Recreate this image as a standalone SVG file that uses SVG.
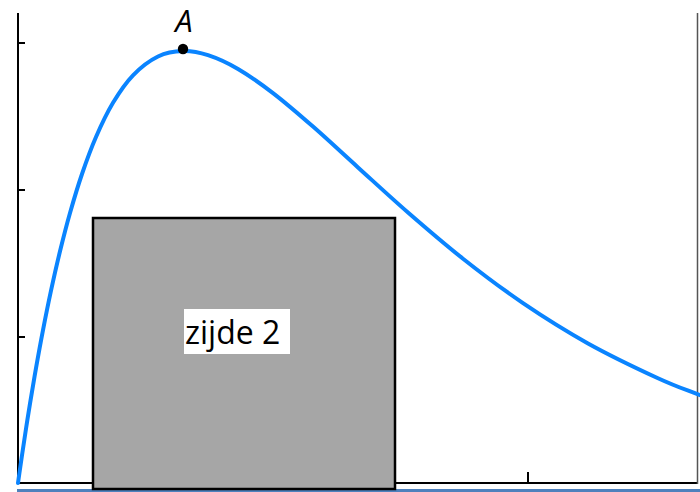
<svg xmlns="http://www.w3.org/2000/svg" width="700" height="492" viewBox="0 0 700 492">
<style>
.axis{stroke:#000;stroke-width:2;fill:none}
.tick{stroke:#000;stroke-width:2}
.curve{stroke:#0a84ff;stroke-width:4;fill:none;stroke-linejoin:round;stroke-linecap:round}
.lbl{font-family:"Open Sans","Liberation Sans",sans-serif;fill:#000}
</style>
<rect width="700" height="492" fill="#fff"/>
<g id="axes">
<line class="axis" x1="18" y1="13" x2="18" y2="484"/>
<line class="axis" x1="17" y1="483" x2="698" y2="483"/>
<line x1="697.5" y1="13" x2="697.5" y2="484" stroke="#555" stroke-width="1.5"/>
<line class="tick" x1="18" y1="43" x2="25" y2="43"/>
<line class="tick" x1="18" y1="190" x2="25" y2="190"/>
<line class="tick" x1="18" y1="337" x2="25" y2="337"/>
<line class="tick" x1="528" y1="472" x2="528" y2="483"/>
</g>
<g id="curve">
<path class="curve" d="M18,483 C19.33,473.73 20.67,464.23 22,455.2 C23.33,446.17 24.67,437.4 26,428.8 C27.33,420.2 28.33,413.72 30,403.6 C31.67,393.48 33.83,380.35 36,368.1 C38.17,355.85 40.5,343 43,330.1 C45.5,317.2 48.17,303.83 51,290.7 C53.83,277.57 56.83,264.25 60,251.3 C63.17,238.35 66.33,225.88 70,213 C73.67,200.12 77.67,186.67 82,174 C86.33,161.33 90.83,148.87 96,137 C101.17,125.13 106.83,113.08 113,102.8 C119.17,92.52 125.5,83.02 133,75.3 C140.5,67.58 149.67,60.55 158,56.5 C166.33,52.45 174.67,51.22 183,51 C191.33,50.78 198.83,52.2 208,55.2 C217.17,58.2 227.17,62.68 238,69 C248.83,75.32 260.5,83.5 273,93.1 C285.5,102.7 298.83,114.22 313,126.6 C327.17,138.98 342.17,153.08 358,167.4 C373.83,181.72 390.5,197.28 408,212.5 C425.5,227.72 443.83,243.6 463,258.7 C482.17,273.8 502.17,288.98 523,303.1 C543.83,317.22 565.5,330.88 588,343.4 C610.5,355.92 639,369.43 658,378.2 C677,386.97 687.33,390.07 702,396"/>
</g>
<line x1="17" y1="490.5" x2="700" y2="490.5" stroke="#4f81bd" stroke-width="3"/>
<g id="square">
<rect x="93" y="218" width="302" height="271" fill="#a6a6a6" stroke="#000" stroke-width="2.5"/>
<rect x="184" y="309" width="106" height="45" fill="#fff"/>
<text class="lbl" x="185" y="344" font-size="32">zijde 2</text>
</g>
<g id="pointA">
<circle cx="183" cy="49" r="5.2" fill="#000"/>
<text class="lbl" x="184" y="32" font-size="31" font-style="italic" text-anchor="middle">A</text>
</g>
</svg>
